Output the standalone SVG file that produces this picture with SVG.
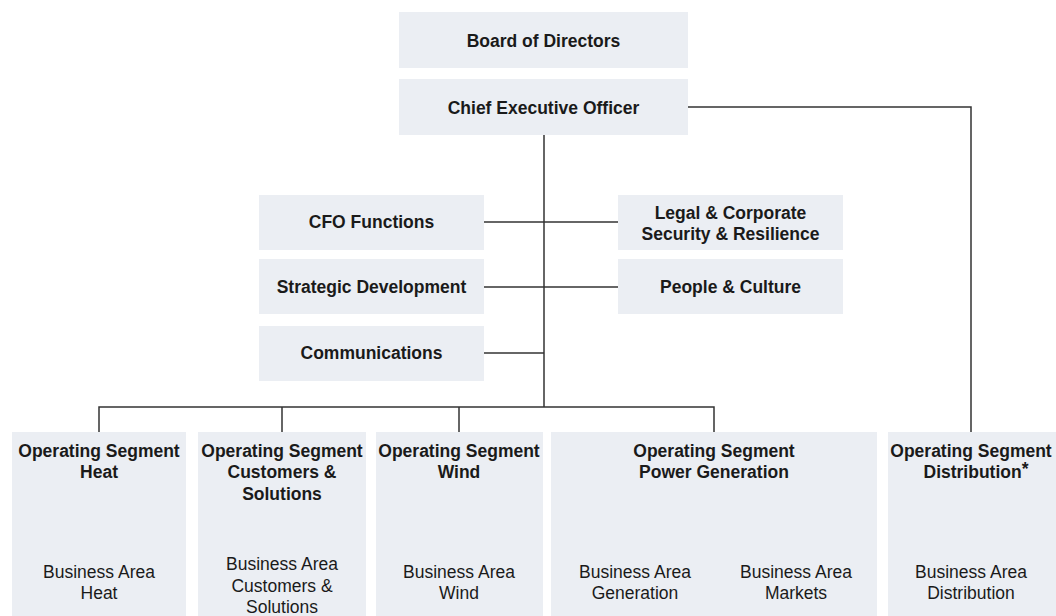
<svg xmlns="http://www.w3.org/2000/svg" width="1056" height="616" viewBox="0 0 1056 616">
<style>
.box{fill:#ebeef3}
.b{font-family:"Liberation Sans",Arial,sans-serif;font-weight:bold;font-size:17.5px;fill:#1a1a1a;text-anchor:middle}
.r{font-family:"Liberation Sans",Arial,sans-serif;font-size:17.5px;fill:#1a1a1a;text-anchor:middle}
.ln{fill:none;stroke:#333;stroke-width:1.5}
</style>
<rect width="1056" height="616" fill="#fff"/>
<g id="connectors">
<path class="ln" d="M544,135 V407"/>
<path class="ln" d="M688,107 H971 V432"/>
<path class="ln" d="M484,222 H618"/>
<path class="ln" d="M484,287 H618"/>
<path class="ln" d="M484,353 H544"/>
<path class="ln" d="M99,432 V407 H714 V432"/>
<path class="ln" d="M282,407 V432"/>
<path class="ln" d="M459,407 V432"/>
</g>
<g id="board"><rect class="box" x="399" y="12" width="289" height="56"/><text class="b" x="543.5" y="47">Board of Directors</text></g>
<g id="ceo"><rect class="box" x="399" y="79" width="289" height="56"/><text class="b" x="543.5" y="114">Chief Executive Officer</text></g>
<g id="cfo"><rect class="box" x="259" y="195" width="225" height="55"/><text class="b" x="371.5" y="228">CFO Functions</text></g>
<g id="strategic"><rect class="box" x="259" y="259" width="225" height="55"/><text class="b" x="371.5" y="293">Strategic Development</text></g>
<g id="communications"><rect class="box" x="259" y="326" width="225" height="55"/><text class="b" x="371.5" y="359">Communications</text></g>
<g id="legal"><rect class="box" x="618" y="195" width="225" height="55"/><text class="b" x="730.5" y="219">Legal &amp; Corporate</text><text class="b" x="730.5" y="240">Security &amp; Resilience</text></g>
<g id="people"><rect class="box" x="618" y="259" width="225" height="55"/><text class="b" x="730.5" y="293">People &amp; Culture</text></g>
<g id="heat"><rect class="box" x="12" y="432" width="174" height="184"/>
<text class="b" x="99" y="457">Operating Segment</text><text class="b" x="99" y="478">Heat</text>
<text class="r" x="99" y="578">Business Area</text><text class="r" x="99" y="599">Heat</text></g>
<g id="customers"><rect class="box" x="198" y="432" width="168" height="184"/>
<text class="b" x="282" y="457">Operating Segment</text><text class="b" x="282" y="478">Customers &amp;</text><text class="b" x="282" y="500">Solutions</text>
<text class="r" x="282" y="570">Business Area</text><text class="r" x="282" y="592">Customers &amp;</text><text class="r" x="282" y="613">Solutions</text></g>
<g id="wind"><rect class="box" x="376" y="432" width="167" height="184"/>
<text class="b" x="459" y="457">Operating Segment</text><text class="b" x="459" y="478">Wind</text>
<text class="r" x="459" y="578">Business Area</text><text class="r" x="459" y="599">Wind</text></g>
<g id="power"><rect class="box" x="551" y="432" width="326" height="184"/>
<text class="b" x="714" y="457">Operating Segment</text><text class="b" x="714" y="478">Power Generation</text>
<text class="r" x="635" y="578">Business Area</text><text class="r" x="635" y="599">Generation</text>
<text class="r" x="796" y="578">Business Area</text><text class="r" x="796" y="599">Markets</text></g>
<g id="distribution"><rect class="box" x="888" y="432" width="168" height="184"/>
<text class="b" x="971" y="457">Operating Segment</text><text class="b" x="976" y="478">Distribution<tspan dy="-3">*</tspan></text>
<text class="r" x="971" y="578">Business Area</text><text class="r" x="971" y="599">Distribution</text></g>
</svg>
